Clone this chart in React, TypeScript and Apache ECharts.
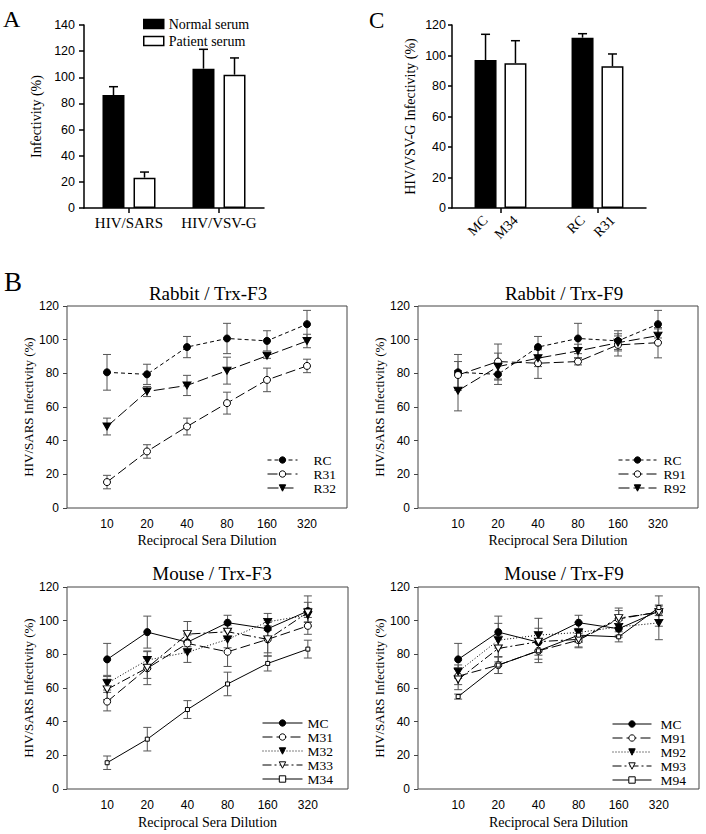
import React, { useEffect, useRef } from 'react';
import * as echarts from 'echarts';

const serif = '"Times New Roman", "Liberation Serif", "DejaVu Serif", serif';
const sans = 'Arial, "Liberation Sans", Helvetica, sans-serif';

// ---------- Panel A ----------
const aCategories = ['HIV/SARS', 'HIV/VSV-G'];
const aNormal = [86.4, 106.6];
const aNormalErr = [6.4, 14.8];
const aPatient = [23.2, 102.0];
const aPatientErr = [4.3, 12.8];

// ---------- Panel C ----------
const cGroups = ['Mouse', 'Rabbit'];
const cControlLabels = ['MC', 'RC'];
const cControl = [97.0, 111.7];
const cControlErr = [16.9, 2.6];
const cImmuneLabels = ['M34', 'R31'];
const cImmune = [94.9, 92.9];
const cImmuneErr = [14.8, 8.1];

// ---------- Panel B ----------
const dilutions = ['10', '20', '40', '80', '160', '320'];

const rabbitRC = [80.6, 79.4, 95.6, 100.7, 99.3, 109.2];
const rabbitRCErr = [10.6, 6.0, 6.3, 9.0, 6.0, 8.2];
const rabbitR31 = [15.4, 33.6, 48.4, 62.3, 76.1, 84.4];
const rabbitR31Err = [4.0, 4.0, 5.0, 6.5, 7.0, 4.0];
const rabbitR32 = [48.4, 69.2, 72.8, 81.6, 90.4, 99.2];
const rabbitR32Err = [5.0, 3.0, 6.0, 8.0, 1.5, 4.0];
const rabbitR91 = [79.0, 87.0, 86.0, 87.0, 96.9, 98.2];
const rabbitR91Err = [8.0, 10.4, 9.0, 2.0, 6.6, 9.0];
const rabbitR92 = [69.7, 84.0, 89.0, 93.3, 98.2, 102.4];
const rabbitR92Err = [12.0, 8.0, 5.0, 4.0, 4.0, 4.0];

const mouseMC = [77.0, 93.2, 87.2, 98.8, 95.2, 105.7];
const mouseMCErr = [9.5, 9.5, 5.0, 4.4, 5.0, 9.0];
const mouseM31 = [51.9, 71.7, 86.5, 81.5, 88.9, 96.9];
const mouseM31Err = [5.5, 6.0, 5.0, 8.7, 10.0, 5.0];
const mouseM32 = [62.8, 76.6, 81.2, 88.9, 99.3, 103.3];
const mouseM32Err = [4.0, 5.0, 6.0, 5.0, 5.0, 4.0];
const mouseM33 = [59.2, 72.0, 92.0, 93.4, 88.9, 104.9];
const mouseM33Err = [6.0, 10.0, 7.5, 4.0, 8.0, 6.0];
const mouseM34 = [15.6, 29.6, 47.2, 62.4, 74.6, 83.1];
const mouseM34Err = [4.0, 7.0, 5.3, 7.0, 4.5, 5.3];
const mouseM91 = [67.0, 73.6, 82.1, 88.4, 101.0, 105.2];
const mouseM91Err = [5.0, 5.0, 7.0, 4.0, 5.0, 2.0];
const mouseM92 = [69.7, 88.4, 91.4, 93.0, 96.3, 98.7];
const mouseM92Err = [4.0, 10.0, 10.0, 6.0, 5.0, 10.0];
const mouseM93 = [65.0, 83.5, 87.5, 88.9, 101.5, 105.0];
const mouseM93Err = [6.0, 8.0, 8.0, 5.0, 6.0, 2.0];
const mouseM94 = [54.9, 73.6, 82.1, 91.4, 90.4, 107.8];
const mouseM94Err = [1.5, 5.0, 5.0, 4.0, 3.0, 1.5];

// ---------- styles (separate from data) ----------
const TRI_DOWN = 'path://M0,0L10,0L5,9Z';
const lineStyles: Record<string, any> = {
  RC: { symbol: 'circle', size: 7, fill: '#000', dash: [4, 3] },
  R31: { symbol: 'circle', size: 7, fill: '#fff', dash: [10, 4] },
  R32: { symbol: TRI_DOWN, size: [8, 7], fill: '#000', dash: [11, 4] },
  R91: { symbol: 'circle', size: 7, fill: '#fff', dash: [10, 4] },
  R92: { symbol: TRI_DOWN, size: [8, 7], fill: '#000', dash: [11, 4] },
  MC: { symbol: 'circle', size: 7, fill: '#000', dash: 'solid' },
  M31: { symbol: 'circle', size: 7, fill: '#fff', dash: [10, 4] },
  M32: { symbol: TRI_DOWN, size: [8, 7], fill: '#000', dash: [1, 2] },
  M33: { symbol: TRI_DOWN, size: [8, 7], fill: '#fff', dash: [9, 3, 2, 3] },
  M34: { symbol: 'rect', size: 4, fill: '#fff', dash: 'solid' },
  M91: { symbol: 'circle', size: 7, fill: '#fff', dash: [10, 4] },
  M92: { symbol: TRI_DOWN, size: [8, 7], fill: '#000', dash: [1, 2] },
  M93: { symbol: TRI_DOWN, size: [8, 7], fill: '#fff', dash: [9, 3, 2, 3] },
  M94: { symbol: 'rect', size: 4, fill: '#fff', dash: 'solid' },
};

const panelsB = [
  { grid: 2, series: [['RC', rabbitRC, rabbitRCErr], ['R31', rabbitR31, rabbitR31Err], ['R32', rabbitR32, rabbitR32Err]] },
  { grid: 3, series: [['RC', rabbitRC, rabbitRCErr], ['R91', rabbitR91, rabbitR91Err], ['R92', rabbitR92, rabbitR92Err]] },
  { grid: 4, series: [['MC', mouseMC, mouseMCErr], ['M31', mouseM31, mouseM31Err], ['M32', mouseM32, mouseM32Err], ['M33', mouseM33, mouseM33Err], ['M34', mouseM34, mouseM34Err]] },
  { grid: 5, series: [['MC', mouseMC, mouseMCErr], ['M91', mouseM91, mouseM91Err], ['M92', mouseM92, mouseM92Err], ['M93', mouseM93, mouseM93Err], ['M94', mouseM94, mouseM94Err]] },
];

const errRenderB = (params: any, api: any) => {
  const x = api.value(0);
  const v = api.value(1);
  const e = api.value(2);
  const top = api.coord([x, v + e]);
  const bot = api.coord([x, v - e]);
  const hw = 4;
  const st = { stroke: '#555', lineWidth: 1 };
  return {
    type: 'group',
    children: [
      { type: 'line', shape: { x1: top[0], y1: top[1], x2: bot[0], y2: bot[1] }, style: st },
      { type: 'line', shape: { x1: top[0] - hw, y1: top[1], x2: top[0] + hw, y2: top[1] }, style: st },
      { type: 'line', shape: { x1: bot[0] - hw, y1: bot[1], x2: bot[0] + hw, y2: bot[1] }, style: st },
    ],
  };
};

const barErr = (vals: number[], errs: number[], sign: number, axis: number, offset: number, name: string) => ({
  type: 'custom',
  name,
  xAxisIndex: axis,
  yAxisIndex: axis,
  z: 3,
  silent: true,
  data: vals.map((v, i) => [i, v, errs[i]]),
  encode: { x: 0, y: 1 },
  renderItem: (params: any, api: any) => {
    const base = api.coord([api.value(0), api.value(1)]);
    const top = api.coord([api.value(0), api.value(1) + api.value(2)]);
    const x = base[0] + sign * offset;
    const st = { stroke: '#000', lineWidth: 1.5 };
    return {
      type: 'group',
      children: [
        { type: 'line', shape: { x1: x, y1: base[1], x2: x, y2: top[1] }, style: st },
        { type: 'line', shape: { x1: x - 4.5, y1: top[1], x2: x + 4.5, y2: top[1] }, style: st },
      ],
    };
  },
});

function buildOption() {
  const BAR_W = 22;
  const A_GAP = 0.41;
  const C_GAP = 0.36;

  const grids = [
    { left: 84, top: 25, width: 180, height: 183 },
    { left: 452, top: 25, width: 194, height: 183 },
    { left: 67, top: 306, width: 280, height: 202, show: true, borderColor: '#444', borderWidth: 1 },
    { left: 418, top: 306, width: 280, height: 202, show: true, borderColor: '#444', borderWidth: 1 },
    { left: 67, top: 587, width: 281, height: 202, show: true, borderColor: '#444', borderWidth: 1 },
    { left: 418, top: 587, width: 281, height: 202, show: true, borderColor: '#444', borderWidth: 1 },
  ];

  const barAxisLine = { show: true, lineStyle: { color: '#000', width: 1.5 } };
  const xAxes: any[] = [
    {
      type: 'category', gridIndex: 0, data: aCategories,
      axisLine: barAxisLine,
      axisTick: { show: true, alignWithLabel: true, length: 5, lineStyle: { color: '#000', width: 1.5 } },
      axisLabel: { fontFamily: serif, fontSize: 15, color: '#000', margin: 7, interval: 0, hideOverlap: false },
    },
    {
      type: 'category', gridIndex: 1, data: cGroups,
      axisLine: barAxisLine,
      axisTick: { show: true, alignWithLabel: true, length: 5, lineStyle: { color: '#000', width: 1.5 } },
      axisLabel: { show: false },
    },
  ];
  const yAxes: any[] = [
    {
      type: 'value', gridIndex: 0, min: 0, max: 140, interval: 20,
      axisLine: barAxisLine,
      axisTick: { show: true, length: 5, lineStyle: { color: '#000', width: 1.5 } },
      axisLabel: { fontFamily: sans, fontSize: 12.5, color: '#000', margin: 9 },
      splitLine: { show: false },
      name: 'Infectivity (%)', nameLocation: 'middle', nameGap: 41, nameRotate: 90,
      nameTextStyle: { fontFamily: serif, fontSize: 14, color: '#000' },
    },
    {
      type: 'value', gridIndex: 1, min: 0, max: 120, interval: 20,
      axisLine: barAxisLine,
      axisTick: { show: true, length: 4, lineStyle: { color: '#000', width: 1.5 } },
      axisLabel: { fontFamily: sans, fontSize: 12.5, color: '#000', margin: 6 },
      splitLine: { show: false },
      name: 'HIV/VSV-G Infectivity (%)', nameLocation: 'middle', nameGap: 35, nameRotate: 90,
      nameTextStyle: { fontFamily: serif, fontSize: 14, color: '#000' },
    },
  ];

  const yNameGaps = [32.5, 30.5, 31.5, 30.5];
  const xNameGaps = [25, 25, 26, 26];
  panelsB.forEach((p, k) => {
    xAxes.push({
      type: 'category', gridIndex: p.grid, data: ['', ...dilutions, ''], boundaryGap: false,
      axisLine: { show: false }, axisTick: { show: false },
      axisLabel: { fontFamily: sans, fontSize: 12, color: '#000', margin: 10, interval: 0 },
      splitLine: { show: false },
      name: 'Reciprocal Sera Dilution', nameLocation: 'middle', nameGap: xNameGaps[k],
      nameTextStyle: { fontFamily: serif, fontSize: 14, color: '#000' },
    });
    yAxes.push({
      type: 'value', gridIndex: p.grid, min: 0, max: 120, interval: 20,
      axisLine: { show: false },
      axisTick: { show: true, length: 4, lineStyle: { color: '#444' } },
      axisLabel: { fontFamily: sans, fontSize: 12, color: '#000', margin: 8 },
      splitLine: { show: false },
      name: 'HIV/SARS Infectivity (%)', nameLocation: 'middle', nameGap: yNameGaps[k], nameRotate: 90,
      nameTextStyle: { fontFamily: serif, fontSize: 13, color: '#000' },
    });
  });

  const series: any[] = [
    {
      type: 'bar', name: 'Normal serum', xAxisIndex: 0, yAxisIndex: 0, data: aNormal,
      barWidth: BAR_W, barGap: `${A_GAP * 100}%`,
      itemStyle: { color: '#000', borderColor: '#000', borderWidth: 1.5 },
    },
    {
      type: 'bar', name: 'Patient serum', xAxisIndex: 0, yAxisIndex: 0, data: aPatient,
      barWidth: BAR_W, barGap: `${A_GAP * 100}%`,
      itemStyle: { color: '#fff', borderColor: '#000', borderWidth: 1.5 },
    },
    barErr(aNormal, aNormalErr, -1, 0, (BAR_W * (1 + A_GAP)) / 2, 'errNormal'),
    barErr(aPatient, aPatientErr, 1, 0, (BAR_W * (1 + A_GAP)) / 2, 'errPatient'),
    {
      type: 'bar', name: 'Control sera', xAxisIndex: 1, yAxisIndex: 1, data: cControl,
      barWidth: BAR_W, barGap: `${C_GAP * 100}%`,
      itemStyle: { color: '#000', borderColor: '#000', borderWidth: 1.5 },
      label: {
        show: true, position: 'bottom', distance: 10, rotate: 45, align: 'right', verticalAlign: 'middle',
        formatter: (p: any) => cControlLabels[p.dataIndex],
        fontFamily: serif, fontSize: 14, color: '#000',
      },
    },
    {
      type: 'bar', name: 'Immune sera', xAxisIndex: 1, yAxisIndex: 1, data: cImmune,
      barWidth: BAR_W, barGap: `${C_GAP * 100}%`,
      itemStyle: { color: '#fff', borderColor: '#000', borderWidth: 1.5 },
      label: {
        show: true, position: 'bottom', distance: 10, rotate: 45, align: 'right', verticalAlign: 'middle',
        formatter: (p: any) => cImmuneLabels[p.dataIndex],
        fontFamily: serif, fontSize: 14, color: '#000',
      },
    },
    barErr(cControl, cControlErr, -1, 1, (BAR_W * (1 + C_GAP)) / 2, 'errControl'),
    barErr(cImmune, cImmuneErr, 1, 1, (BAR_W * (1 + C_GAP)) / 2, 'errImmune'),
  ];

  panelsB.forEach((p) => {
    p.series.forEach((s: any) => {
      const [name, vals, errs] = s;
      const st = lineStyles[name];
      series.push({
        type: 'custom', name: name + ' error', xAxisIndex: p.grid, yAxisIndex: p.grid, z: 1, silent: true,
        data: vals.map((v: number, i: number) => [i + 1, v, errs[i]]),
        encode: { x: 0, y: 1 },
        renderItem: errRenderB,
      });
      series.push({
        type: 'line', name, xAxisIndex: p.grid, yAxisIndex: p.grid, z: 2,
        data: vals.map((v: number, i: number) => [i + 1, v]),
        symbol: st.symbol, symbolSize: st.size, showSymbol: true, showAllSymbol: true,
        itemStyle: { color: st.fill, borderColor: '#000', borderWidth: 1 },
        lineStyle: { color: '#000', width: 1, type: st.dash },
        emphasis: { disabled: true },
      });
    });
  });

  const legendText = (fs: number, lh: number, padLeft: number) => ({
    fontFamily: serif, fontSize: fs, color: '#000', lineHeight: lh, padding: [0, 0, 0, padLeft],
  });
  const lineLegend = (left: number, top: number, w: number, names: string[], lh: number, pad: number) => ({
    orient: 'vertical', left, top, padding: 0, itemWidth: w, itemHeight: 8, itemGap: 0,
    selectedMode: false, data: names,
    itemStyle: { borderWidth: 1 },
    lineStyle: { width: 1 },
    textStyle: legendText(13.5, lh, pad),
  });
  const legends = [
    {
      orient: 'vertical', left: 143, top: 17, padding: 0, itemWidth: 20, itemHeight: 9, itemGap: 3,
      icon: 'rect', selectedMode: false, data: ['Normal serum', 'Patient serum'],
      itemStyle: { borderWidth: 1.5 }, textStyle: legendText(14, 14, 0),
    },
    lineLegend(267, 453, 30, ['RC', 'R31', 'R32'], 12.5, 11),
    lineLegend(618, 453, 38, ['RC', 'R91', 'R92'], 12.8, 2),
    lineLegend(262, 716, 40, ['MC', 'M31', 'M32', 'M33', 'M34'], 13.3, 0),
    lineLegend(612, 717, 39, ['MC', 'M91', 'M92', 'M93', 'M94'], 12.6, 4),
  ];

  const txt = (text: string, x: number, y: number, size: number, align = 'center') => ({
    type: 'text', x, y, silent: true,
    style: { text, fill: '#000', font: `${size}px ${serif}`, align, verticalAlign: 'middle' },
  });

  const graphic = [
    txt('A', 3, 19, 24, 'left'),
    txt('C', 369, 20, 23, 'left'),
    txt('B', 4, 282, 27, 'left'),
    txt('Rabbit / Trx-F3', 208, 293, 19),
    txt('Rabbit / Trx-F9', 564, 293, 19),
    txt('Mouse / Trx-F3', 212, 573, 19),
    txt('Mouse / Trx-F9', 564, 573, 19),
  ];

  return {
    animation: false,
    backgroundColor: '#fff',
    grid: grids,
    xAxis: xAxes,
    yAxis: yAxes,
    legend: legends,
    series,
    graphic,
  };
}

export default function App() {
  const ref = useRef<HTMLDivElement>(null);
  useEffect(() => {
    if (!ref.current) return;
    const chart = echarts.init(ref.current, undefined, { renderer: 'svg' });
    chart.setOption(buildOption() as any);
    return () => chart.dispose();
  }, []);
  return (
    <div
      ref={ref}
      style={{ position: 'fixed', left: 0, top: 0, width: 706, height: 834, background: '#fff' }}
    />
  );
}
